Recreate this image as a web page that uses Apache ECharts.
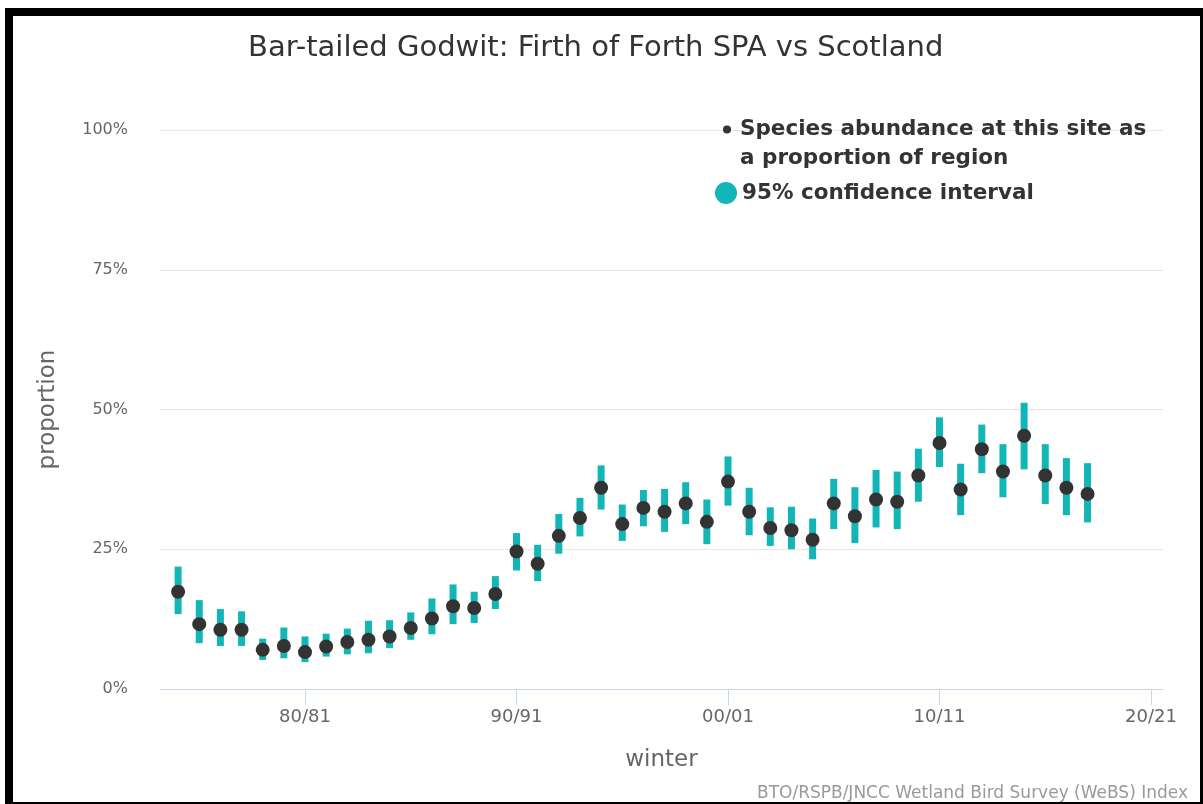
<!DOCTYPE html>
<html>
<head>
<meta charset="utf-8">
<script src="https://cdn.jsdelivr.net/npm/echarts@6/dist/echarts.min.js"></script>
<style>
  html, body { margin: 0; padding: 0; background: #fff; }
  #chart { position: absolute; left: 0; top: 0; width: 1203px; height: 804px; }
  #frame {
    position: absolute; left: 5px; top: 8px; width: 1198px; height: 796px;
    box-sizing: border-box; pointer-events: none;
    border-left: 8px solid #000; border-top: 8px solid #000;
    border-right: 3px solid #000; border-bottom: 2px solid #000;
  }
</style>
</head>
<body>
<div id="chart"></div>
<div id="frame"></div>
<script>
// Winter (start year of each season, e.g. 1980 = 80/81)
const winters = [1974, 1975, 1976, 1977, 1978, 1979, 1980, 1981, 1982, 1983,
  1984, 1985, 1986, 1987, 1988, 1989, 1990, 1991, 1992, 1993,
  1994, 1995, 1996, 1997, 1998, 1999, 2000, 2001, 2002, 2003,
  2004, 2005, 2006, 2007, 2008, 2009, 2010, 2011, 2012, 2013,
  2014, 2015, 2016, 2017];

// Share of the Scottish total found at the site (%)
const proportion = [17.4, 11.6, 10.6, 10.6, 7.0, 7.7, 6.6, 7.6, 8.4, 8.8,
  9.4, 10.9, 12.6, 14.8, 14.5, 17.0, 24.6, 22.4, 27.4, 30.6,
  36.0, 29.5, 32.4, 31.7, 33.2, 29.9, 37.1, 31.7, 28.8, 28.4,
  26.7, 33.2, 30.9, 33.9, 33.5, 38.2, 44.0, 35.7, 42.9, 38.9,
  45.3, 38.2, 36.0, 34.9];

// 95% confidence interval bounds (%)
const ciLow = [13.4, 8.2, 7.7, 7.7, 5.2, 5.5, 4.8, 5.8, 6.2, 6.4,
  7.3, 8.8, 9.8, 11.6, 11.8, 14.3, 21.2, 19.3, 24.2, 27.3,
  32.1, 26.5, 29.1, 28.1, 29.5, 25.9, 32.8, 27.5, 25.6, 25.0,
  23.2, 28.6, 26.1, 28.9, 28.6, 33.5, 39.7, 31.1, 38.6, 34.3,
  39.3, 33.1, 31.1, 29.8];
const ciHigh = [21.9, 15.9, 14.3, 13.9, 9.0, 11.0, 9.4, 9.9, 10.8, 12.2,
  12.3, 13.7, 16.2, 18.7, 17.4, 20.2, 27.9, 25.8, 31.3, 34.2,
  40.0, 33.0, 35.6, 35.8, 37.0, 33.9, 41.6, 36.0, 32.5, 32.6,
  30.5, 37.6, 36.1, 39.2, 38.9, 43.0, 48.6, 40.3, 47.3, 43.8,
  51.2, 43.8, 41.3, 40.4];

// Axis ticks
const xTicks = [1980, 1990, 2000, 2010, 2020];
const xTickLabels = ['80/81', '90/91', '00/01', '10/11', '20/21'];

const NAME_POINT = 'Species abundance at this site as a proportion of region';
const NAME_CI = '95% confidence interval';
const TEAL = '#13b6b6';
const DOT = '#333333';
const FONT = 'DejaVu Sans';

const pointData = winters.map((w, i) => [w, proportion[i]]);
const ciData = winters.map((w, i) => [w, ciLow[i], ciHigh[i]]);

const chart = echarts.init(document.getElementById('chart'), null, { renderer: 'canvas' });

chart.setOption({
  backgroundColor: '#fff',
  animation: false,
  title: {
    text: 'Bar-tailed Godwit: Firth of Forth SPA vs Scotland',
    left: 248, top: 34, padding: 0,
    textStyle: { fontFamily: FONT, fontSize: 29, fontWeight: 'normal', color: '#333333' }
  },
  legend: [{
    // blank first line keeps the marker level with the first text line
    data: [{ name: NAME_POINT, icon: 'circle', itemStyle: { color: DOT } }],
    orient: 'vertical', left: 723, top: 86, padding: 0,
    itemWidth: 16, itemHeight: 8, itemGap: 0, selectedMode: false,
    formatter: () => ' \nSpecies abundance at this site as\na proportion of region',
    textStyle: { fontFamily: FONT, fontSize: 21.5, fontWeight: 'bold', color: '#333333', lineHeight: 29 }
  }, {
    data: [{ name: NAME_CI, icon: 'circle', itemStyle: { color: TEAL } }],
    orient: 'vertical', left: 715, top: 182, padding: 0,
    itemWidth: 22, itemHeight: 22, selectedMode: false,
    textStyle: { fontFamily: FONT, fontSize: 21.5, fontWeight: 'bold', color: '#333333' }
  }],
  grid: { left: 160, right: 40, top: 130, bottom: 115, containLabel: false },
  xAxis: {
    type: 'value',
    min: 1973.144, max: 2020.567,
    name: 'winter', nameLocation: 'middle', nameGap: 60,
    nameTextStyle: { fontFamily: FONT, fontSize: 23, color: '#666666' },
    axisLine: { show: true, onZero: false, lineStyle: { color: '#ccd6eb', width: 1 } },
    axisTick: { show: true, length: 16, customValues: xTicks, lineStyle: { color: '#ccd6eb' } },
    axisLabel: {
      customValues: xTicks, margin: 19,
      fontFamily: FONT, fontSize: 18, color: '#666666',
      formatter: (v) => xTickLabels[xTicks.indexOf(Math.round(v))] || ''
    },
    splitLine: { show: false }
  },
  yAxis: {
    type: 'value', min: 0, max: 100, interval: 25,
    name: 'proportion', nameLocation: 'middle', nameGap: 100, nameRotate: 90,
    nameTextStyle: { fontFamily: FONT, fontSize: 23, color: '#666666' },
    axisLine: { show: false }, axisTick: { show: false },
    axisLabel: { margin: 32, fontFamily: FONT, fontSize: 16, color: '#666666', formatter: '{value}%' },
    splitLine: { show: true, lineStyle: { color: '#e6e6e6', width: 1 } }
  },
  graphic: [{
    type: 'text', right: 15, bottom: 2,
    style: { text: 'BTO/RSPB/JNCC Wetland Bird Survey (WeBS) Index', fontFamily: FONT, fontSize: 17, fill: '#999999' }
  }],
  series: [{
    name: NAME_CI,
    type: 'custom',
    data: ciData,
    encode: { x: 0, y: [1, 2] },
    z: 2,
    renderItem: (params, api) => {
      const x = api.value(0);
      const top = api.coord([x, api.value(2)]);
      const bot = api.coord([x, api.value(1)]);
      const w = 7;
      return {
        type: 'rect',
        shape: { x: top[0] - w / 2, y: top[1], width: w, height: bot[1] - top[1] },
        style: { fill: TEAL }
      };
    }
  }, {
    name: NAME_POINT,
    type: 'scatter',
    data: pointData,
    symbol: 'circle', symbolSize: 14,
    itemStyle: { color: DOT, opacity: 1 },
    z: 3
  }]
});
</script>
</body>
</html>
